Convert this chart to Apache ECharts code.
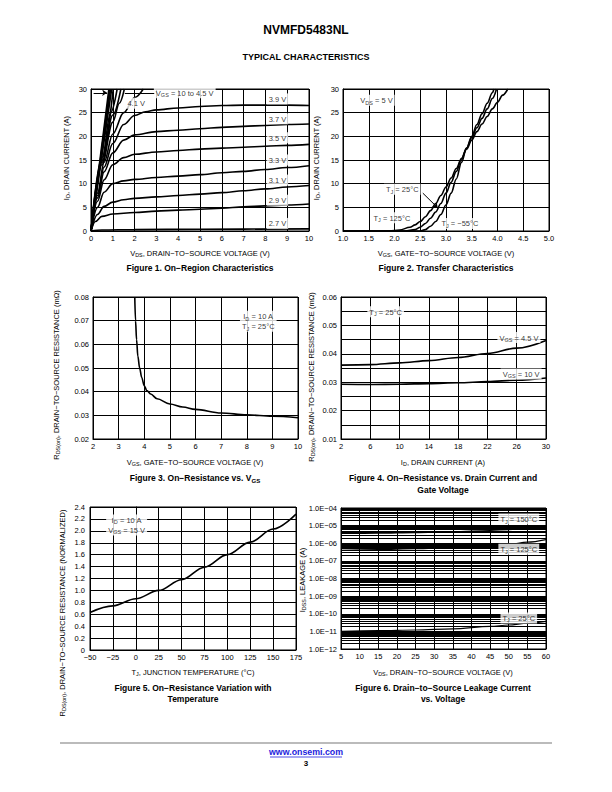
<!DOCTYPE html>
<html>
<head>
<meta charset="utf-8">
<script src="https://cdn.jsdelivr.net/npm/echarts@6.0.0/dist/echarts.min.js"></script>
<style>
html,body{margin:0;padding:0;background:#fff;}
#chart{width:612px;height:792px;}
</style>
</head>
<body>
<div id="chart"></div>
<script>
// ================= DATA =================
// Figure 1: ID (A) vs VDS (V), one array per VGS
const fig1_vgs27 = [[0,0],[0.5,0.2],[2,0.3],[5,0.38],[10,0.45]];
const fig1_vgs29 = [[0,0],[0.2,2],[0.5,3.1],[1,3.6],[2,3.9],[3,4.2],[4,4.4],[5,4.6],[6,4.8],[7,5.1],[8,5.3],[9,5.5],[10,5.7]];
const fig1_vgs31 = [[0,0],[0.3,3.5],[0.6,5.2],[1,6.1],[1.5,6.6],[2,6.9],[3,7.2],[4,7.5],[5,7.8],[6,8.1],[7,8.5],[8,8.9],[9,9.3],[10,9.6]];
const fig1_vgs33 = [[0,0],[0.3,5],[0.6,8.2],[1,10],[1.5,10.6],[2,10.9],[3,11.3],[4,11.6],[5,11.9],[6,12.3],[7,12.6],[8,13],[9,13.4],[10,13.8]];
const fig1_vgs35 = [[0,0],[0.3,6.3],[0.6,10.8],[1,14],[1.5,15.5],[2,16.2],[3,16.7],[4,17],[5,17.3],[6,17.5],[7,17.7],[8,17.9],[9,18.1],[10,18.3]];
const fig1_vgs37 = [[0,0],[0.3,7],[0.6,12.5],[1,16.5],[1.5,19.2],[2,20.3],[3,21],[4,21.3],[5,21.6],[6,21.9],[7,22.1],[8,22.3],[9,22.5],[10,22.6]];
const fig1_vgs39 = [[0,0],[0.3,7.5],[0.6,13.5],[1,18.5],[1.5,22.5],[2,24.4],[2.5,25.2],[3,25.6],[4,26],[5,26.3],[6,26.5],[7,26.6],[8,26.6],[9,26.6],[10,26.5]];
const fig1_vgs41 = [[0,0],[0.3,8],[0.6,14.5],[1,20.5],[1.5,25],[2,28.2],[2.4,30]];
const fig1_vgs10 = [[0,0],[0.82,30]];
const fig1_vgs8  = [[0,0],[0.86,30]];
const fig1_vgs6  = [[0,0],[0.9,30]];
const fig1_vgs55 = [[0,0],[0.95,30]];
const fig1_vgs5  = [[0,0],[0.5,15.5],[1.02,30]];
const fig1_vgs47 = [[0,0],[0.5,15],[0.9,25],[1.2,30]];
const fig1_vgs46 = [[0,0],[0.5,14.5],[1.0,24.5],[1.37,30]];
const fig1_vgs45 = [[0,0],[0.5,14],[1.0,23],[1.3,27],[1.53,30]];
const fig1_curves = [fig1_vgs27,fig1_vgs29,fig1_vgs31,fig1_vgs33,fig1_vgs35,fig1_vgs37,fig1_vgs39,fig1_vgs41,
                     fig1_vgs10,fig1_vgs8,fig1_vgs6,fig1_vgs55,fig1_vgs5,fig1_vgs47,fig1_vgs46,fig1_vgs45];

// Figure 2: ID (A) vs VGS (V)
const fig2_tjm55 = [[1.0,0],[2.5,0],[2.6,0.3],[2.7,1],[2.8,2],[2.9,3.5],[3.0,5.5],[3.1,8],[3.2,11],[3.3,14.5],[3.4,17.5],[3.5,20],[3.6,22.5],[3.7,24.8],[3.8,27],[3.9,29.2],[3.93,30]];
const fig2_tj25  = [[1.0,0],[2.2,0],[2.4,0.3],[2.5,0.8],[2.6,1.6],[2.7,2.7],[2.8,4],[2.9,5.8],[3.0,8],[3.1,10.3],[3.2,12.6],[3.3,15.2],[3.4,17.5],[3.5,19.7],[3.6,21.8],[3.7,23.8],[3.8,25.8],[3.9,28],[3.98,30]];
const fig2_tj125 = [[1.0,0],[1.9,0],[2.1,0.2],[2.3,0.8],[2.4,1.3],[2.5,2],[2.6,3],[2.7,4.3],[2.8,5.8],[2.9,7.5],[3.0,9.3],[3.1,11.2],[3.2,13.2],[3.3,15.3],[3.4,17.3],[3.5,19.2],[3.6,21],[3.7,22.6],[3.8,24.2],[3.9,25.8],[4.0,27.2],[4.1,28.7],[4.2,30]];

// Figure 3: RDS(on) (ohm) vs VGS (V)
const fig3_rds = [[3.63,0.08],[3.66,0.07],[3.7,0.062],[3.75,0.055],[3.82,0.05],[3.9,0.046],[4.0,0.0425],[4.1,0.0405],[4.25,0.039],[4.5,0.037],[5,0.0348],[5.5,0.0335],[6,0.0325],[7,0.031],[8,0.0302],[9,0.0296],[10,0.029]];

// Figure 4: RDS(on) (ohm) vs ID (A)
const fig4_id = [2,6,10,14,18,22,26,30];
const fig4_vgs45 = [0.0360,0.0362,0.0368,0.0376,0.0387,0.0401,0.0420,0.0447];
const fig4_vgs10 = [0.0293,0.0292,0.0293,0.0295,0.0298,0.0302,0.0307,0.0315];

// Figure 5: normalized RDS(on) vs TJ (C)
const fig5_tj  = [-50,-25,0,25,50,75,100,125,150,175];
const fig5_rds = [0.63,0.74,0.86,1.0,1.18,1.39,1.6,1.81,2.03,2.28];

// Figure 6: IDSS (A) vs VDS (V)
const fig6_vds   = [5,15,25,35,45,50,55,60];
const fig6_tj150 = [3.6e-6,3.7e-6,4.0e-6,4.5e-6,5.3e-6,6.0e-6,7.0e-6,8.5e-6];
const fig6_tj125 = [4.0e-7,4.4e-7,4.9e-7,5.6e-7,7.0e-7,8.5e-7,1.15e-6,1.6e-6];
const fig6_tj25  = [1.0e-11,1.1e-11,1.2e-11,1.4e-11,1.9e-11,2.3e-11,2.9e-11,3.7e-11];
const fig6_minorMultipliers = [2,3,4,5,6,7,8,9];
const fig6_decades = [-12,-11,-10,-9,-8,-7,-6,-5];

// Tick values
const fig4_xTicks = [2,6,10,14,18,22,26,30];

// Annotations (label text anchored at data coordinates)
const fig1_notes = [[8.55,27.9,'3.9 V'],[8.55,23.7,'3.7 V'],[8.55,19.7,'3.5 V'],[8.55,15.0,'3.3 V'],[8.55,10.75,'3.1 V'],[8.55,6.5,'2.9 V'],[8.55,1.6,'2.7 V'],[2.07,27.0,'4.1 V'],[4.3,29.2,'V_{GS} = 10 to 4.5 V']];
const fig2_notes = [[1.65,27.6,'V_{DS} = 5 V'],[2.15,8.8,'T_{J} = 25°C'],[1.95,2.8,'T_{J} = 125°C'],[3.27,1.6,'T_{J} = −55°C']];
const fig3_notes = [[8.45,0.0698,'I_{D} = 10 A\nT_{J} = 25°C']];
const fig4_notes = [[8.1,0.0548,'T_{J} = 25°C'],[26.3,0.0457,'V_{GS} = 4.5 V'],[26.6,0.0329,'V_{GS} = 10 V']];
const fig5_notes = [[-10,2.1,'I_{D} = 10 A\nV_{GS} = 15 V']];
const fig6_notes = [[52.7,2.34e-5,'T_{J} = 150°C'],[52.7,4.57e-7,'T_{J} = 125°C'],[52.7,5.75e-11,'T_{J} = 25°C']];
const fig1_arrows = [[[0.12,29.2],[0.74,29.2],true],[[1.55,29.2],[2.9,29.2],false]];
const fig2_arrows = [[[2.55,8.0],[2.84,4.9],true]];

// ================= CHART =================
const FONT = '"Liberation Sans", Arial, sans-serif';
function rt(str){
  return str.split('\n').map(line => line.split(/(_\{[^}]*\})/).filter(s => s.length)
    .map(p => p.startsWith('_{') ? '{s|' + p.slice(2,-1) + '}' : '{n|' + p + '}').join('')).join('\n');
}
const labelRich = {
  n:{fontSize:7.5, fontFamily:FONT, color:'#000', lineHeight:10},
  s:{fontSize:5.5, fontFamily:FONT, color:'#000', padding:[4,0,0,0]}
};
const BLACK = '#000';

const grids = [
  {left:91, top:89, width:218, height:142},
  {left:343, top:89, width:206, height:142},
  {left:93, top:297, width:205, height:142},
  {left:341, top:297, width:205, height:142},
  {left:90, top:507, width:206, height:143},
  {left:341, top:508, width:205, height:141}
].map(g => Object.assign({show:true, borderColor:BLACK, borderWidth:1, containLabel:false}, g));

function axisBase(gi, extra){
  return Object.assign({
    type:'value', gridIndex:gi,
    axisLine:{show:true, lineStyle:{color:BLACK, width:1}},
    axisTick:{show:false},
    splitLine:{show:true, lineStyle:{color:BLACK, width:1}},
    axisLabel:{color:BLACK, fontSize:7.5, fontFamily:FONT, margin:3, showMinLabel:true, showMaxLabel:true}
  }, extra);
}
function withLabel(ax, lbl){ ax.axisLabel = Object.assign({}, ax.axisLabel, lbl); return ax; }

const xAxes = [
  axisBase(0,{min:0,max:10,interval:1}),
  withLabel(axisBase(1,{min:1,max:5,interval:0.5}), {formatter:v => v.toFixed(1)}),
  axisBase(2,{min:2,max:10,interval:1}),
  withLabel(axisBase(3,{min:2,max:30,axisTick:{show:false, customValues:fig4_xTicks}}), {customValues:fig4_xTicks}),
  withLabel(axisBase(4,{min:-50,max:175,interval:25}), {formatter:v => String(v).replace('-','−')}),
  axisBase(5,{min:5,max:60,interval:5})
];
const yAxes = [
  withLabel(axisBase(0,{min:0,max:30,interval:5}), {margin:4}),
  withLabel(axisBase(1,{min:0,max:30,interval:5}), {margin:4}),
  withLabel(axisBase(2,{min:0.02,max:0.08,interval:0.01}), {margin:4, formatter:v => v.toFixed(2)}),
  withLabel(axisBase(3,{min:0.01,max:0.06,interval:0.01, minorTick:{show:false, splitNumber:2}, minorSplitLine:{show:true, lineStyle:{color:BLACK,width:1}}}), {margin:4, formatter:v => v.toFixed(2)}),
  withLabel(axisBase(4,{min:0,max:2.4,interval:0.2}), {margin:5, formatter:v => (Math.abs(v) < 1e-9 ? '0' : v.toFixed(1))}),
  withLabel(axisBase(5,{type:'log', logBase:10, min:1e-12, max:1e-4}), {margin:4, formatter:v => '1.0E−' + String(Math.round(-Math.log10(v))).padStart(2,'0')})
];

const series = [];
function curve(gi, data, w){
  series.push({type:'line', xAxisIndex:gi, yAxisIndex:gi, data:data, showSymbol:false, symbol:'none',
    smooth:0.35, smoothMonotone:'x', silent:true, z:3, lineStyle:{color:BLACK, width:w||1.5}});
}
fig1_curves.forEach(c => curve(0, c, 1.6));
[fig2_tjm55, fig2_tj25, fig2_tj125].forEach(c => curve(1, c, 1.6));
curve(2, fig3_rds, 1.6);
curve(3, fig4_id.map((x,i) => [x, fig4_vgs45[i]]), 1.6);
curve(3, fig4_id.map((x,i) => [x, fig4_vgs10[i]]), 1.6);
curve(4, fig5_tj.map((x,i) => [x, fig5_rds[i]]), 1.6);
[fig6_tj150, fig6_tj125, fig6_tj25].forEach(arr => curve(5, fig6_vds.map((x,i) => [x, arr[i]]), 1.2));

// Figure 6 minor log grid lines (2..9 x 10^n)
const minorLines = [];
fig6_decades.forEach(e => fig6_minorMultipliers.forEach(m => {
  const v = m * Math.pow(10, e);
  minorLines.push({coords:[[5, v],[60, v]]});
}));
series.push({type:'lines', coordinateSystem:'cartesian2d', xAxisIndex:5, yAxisIndex:5, silent:true, z:1,
  symbol:['none','none'], lineStyle:{color:BLACK, width:1.2, opacity:1}, data:minorLines});

function notes(gi, arr){
  series.push({type:'scatter', xAxisIndex:gi, yAxisIndex:gi, symbolSize:0.1, itemStyle:{color:'rgba(0,0,0,0)'}, silent:true, z:6,
    data:arr.map(n => ({value:[n[0], n[1]], name:n[2]})),
    label:{show:true, position:'inside', formatter:p => rt(p.name), rich:labelRich, backgroundColor:'#fff', padding:[1,2,0,2], align:'center', verticalAlign:'middle'}});
}
notes(0, fig1_notes); notes(1, fig2_notes); notes(2, fig3_notes); notes(3, fig4_notes); notes(4, fig5_notes); notes(5, fig6_notes);

function arrows(gi, arr){
  arr.forEach(a => series.push({type:'lines', coordinateSystem:'cartesian2d', xAxisIndex:gi, yAxisIndex:gi, silent:true, z:7,
    symbol: a[2] ? ['none','arrow'] : ['none','none'], symbolSize:5,
    lineStyle:{color:BLACK, width:1, opacity:1}, data:[{coords:[a[0], a[1]]}]}));
}
arrows(0, fig1_arrows); arrows(1, fig2_arrows);

// ---------- page texts ----------
function gt(x, y, str, size, bold, rot, color){
  const w = bold ? 'bold' : 'normal';
  const c = color || BLACK;
  return {type:'text', x:x, y:y, rotation:rot || 0, silent:true,
    style:{text:rt(str), align:'center', verticalAlign:'middle', textAlign:'center', textVerticalAlign:'middle',
      fontFamily:FONT, fontSize:size, fontWeight:w, fill:c,
      rich:{n:{fontSize:size, fontFamily:FONT, fontWeight:w, fill:c},
            s:{fontSize:Math.round(size*0.72*10)/10, fontFamily:FONT, fontWeight:w, fill:c, padding:[Math.round(size*0.5),0,0,0]}}}};
}
const R = Math.PI/2;
const graphics = [
  gt(306, 30, 'NVMFD5483NL', 12, true),
  gt(306, 57, 'TYPICAL CHARACTERISTICS', 9, true),
  // x titles
  gt(200, 253, 'V_{DS}, DRAIN−TO−SOURCE VOLTAGE (V)', 7.5),
  gt(446, 253, 'V_{GS}, GATE−TO−SOURCE VOLTAGE (V)', 7.5),
  gt(195, 462, 'V_{GS}, GATE−TO−SOURCE VOLTAGE (V)', 7.5),
  gt(443, 462, 'I_{D}, DRAIN CURRENT (A)', 7.5),
  gt(193, 672, 'T_{J}, JUNCTION TEMPERATURE (°C)', 7.5),
  gt(443, 672, 'V_{DS}, DRAIN−TO−SOURCE VOLTAGE (V)', 7.5),
  // y titles
  gt(66, 158, 'I_{D}, DRAIN CURRENT (A)', 7.5, false, R),
  gt(316, 158, 'I_{D}, DRAIN CURRENT (A)', 7.5, false, R),
  gt(56, 375, 'R_{DS(on)}, DRAIN−TO−SOURCE RESISTANCE (mΩ)', 7.5, false, R),
  gt(311, 377, 'R_{DS(on)}, DRAIN−TO−SOURCE RESISTANCE (mΩ)', 7.5, false, R),
  gt(62, 613, 'R_{DS(on)}, DRAIN−TO−SOURCE RESISTANCE (NORMALIZED)', 7.5, false, R),
  gt(302, 580, 'I_{DSS}, LEAKAGE (A)', 7.5, false, R),
  // captions
  gt(200, 268, 'Figure 1. On−Region Characteristics', 8.5, true),
  gt(446, 268, 'Figure 2. Transfer Characteristics', 8.5, true),
  gt(195, 478, 'Figure 3. On−Resistance vs. V_{GS}', 8.5, true),
  gt(443, 478, 'Figure 4. On−Resistance vs. Drain Current and', 8.5, true),
  gt(443, 490, 'Gate Voltage', 8.5, true),
  gt(193, 688, 'Figure 5. On−Resistance Variation with', 8.5, true),
  gt(193, 699, 'Temperature', 8.5, true),
  gt(443, 688, 'Figure 6. Drain−to−Source Leakage Current', 8.5, true),
  gt(443, 699, 'vs. Voltage', 8.5, true),
  // footer
  {type:'line', silent:true, shape:{x1:60, y1:743, x2:552, y2:743}, style:{stroke:'#bbbbbb', lineWidth:2}},
  gt(306, 752, 'www.onsemi.com', 8.8, true, 0, '#2222dd'),
  {type:'line', silent:true, shape:{x1:270, y1:757, x2:342, y2:757}, style:{stroke:'#2222dd', lineWidth:0.8}},
  gt(306, 763, '3', 8, true)
];

const chart = echarts.init(document.getElementById('chart'), null, {renderer:'svg', width:612, height:792});
chart.setOption({
  animation:false,
  backgroundColor:'#fff',
  textStyle:{fontFamily:FONT},
  grid:grids, xAxis:xAxes, yAxis:yAxes, series:series, graphic:graphics
});
</script>
</body>
</html>
